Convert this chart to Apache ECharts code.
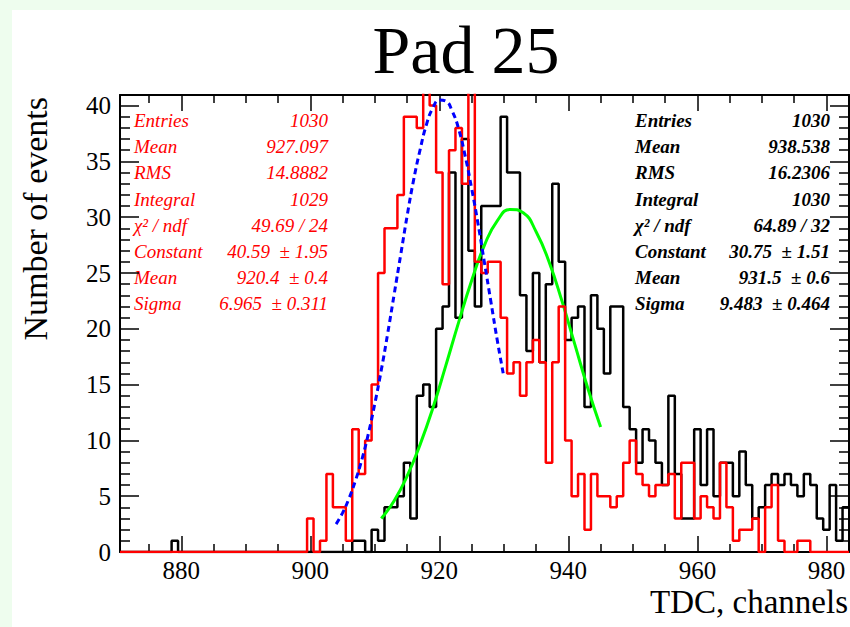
<!DOCTYPE html>
<html>
<head>
<meta charset="utf-8">
<script src="https://cdn.jsdelivr.net/npm/echarts@6/dist/echarts.min.js"></script>
<style>
html,body{margin:0;padding:0;background:#fff;}
#c{width:850px;height:627px;}
</style>
</head>
<body>
<div id="c"></div>
<script>
// ---- data ----
const binWidth = 1;
const binCenters = [
  871,872,873,874,875,876,877,878,879,880,
  881,882,883,884,885,886,887,888,889,890,
  891,892,893,894,895,896,897,898,899,900,
  901,902,903,904,905,906,907,908,909,910,
  911,912,913,914,915,916,917,918,919,920,
  921,922,923,924,925,926,927,928,929,930,
  931,932,933,934,935,936,937,938,939,940,
  941,942,943,944,945,946,947,948,949,950,
  951,952,953,954,955,956,957,958,959,960,
  961,962,963,964,965,966,967,968,969,970,
  971,972,973,974,975,976,977,978,979,980,
  981,982,983
];
const redCounts = [
  0,0,0,0,0,0,0,0,0,0,
  0,0,0,0,0,0,0,0,0,0,
  0,0,0,0,0,0,0,0,0,3,
  0,1,7,4,4,1,11,7,10,15,
  25,29,29,32,39,39,38,43,40,34,
  24,36,38,33,44,26,25,26,26,21,
  16,17,14,17,19,17,8,17,22,10,
  5,7,2,7,5,5,4,5,8,10,
  7,6,5,6,6,7,3,8,8,3,
  5,4,3,8,4,1,2,2,3,0,
  4,6,1,0,0,1,1,0,0,0,
  0,0,0
];
const blackCounts = [
  0,0,0,0,0,0,0,0,1,0,
  0,0,0,0,0,0,0,0,0,0,
  0,0,0,0,0,0,0,0,0,0,
  0,0,0,0,0,0,1,1,0,2,
  1,4,4,5,8,3,14,15,13,20,
  22,34,21,37,27,22,31,31,31,39,
  34,34,23,18,25,17,24,33,26,19,
  21,22,13,23,20,16,22,22,13,11,
  8,11,10,8,6,14,7,3,3,11,
  6,11,5,8,8,5,9,6,3,4,
  6,7,6,7,6,5,7,6,3,2,
  6,1,4
];
// Gaussian fit curves
const blueFitX = [904,905,906,907,908,909,910,911,912,913,914,915,916,917,918,919,920,921,922,923,924,925,926,927,928,929,930];
const blueFitY = [2.5,3.5,4.8,6.4,8.3,10.6,13.3,16.3,19.6,23.1,26.6,30.1,33.3,36.0,38.3,39.8,40.5,40.4,39.5,37.9,35.5,32.6,29.4,25.9,22.4,18.9,15.7];
const greenFitX = [911,913,915,917,919,921,923,925,927,929,931,933,935,937,939,941,943,945];
const greenFitY = [3.0,4.6,6.8,9.6,12.9,16.7,20.6,24.3,27.5,29.7,30.7,30.4,28.7,26.0,22.5,18.6,14.7,11.2];

const xMajorTicks = [880,900,920,940,960,980];
const xMinorTicks = [875,885,890,895,905,910,915,925,930,935,945,950,955,965,970,975];
const yMajorTicks = [0,5,10,15,20,25,30,35,40];
const yMinorTicks = [1,2,3,4,6,7,8,9,11,12,13,14,16,17,18,19,21,22,23,24,26,27,28,29,31,32,33,34,36,37,38,39];

const statLabels = ['Entries','Mean','RMS','Integral','\u03c7\u00b2 / ndf','Constant','Mean','Sigma'];
const redStatValues = ['1030','927.097','14.8882','1029','49.69 / 24','40.59\u00a0\u00a0\u00b1\u00a01.95','920.4\u00a0\u00a0\u00b1\u00a00.4','6.965\u00a0\u00a0\u00b1\u00a00.311'];
const blackStatValues = ['1030','938.538','16.2306','1030','64.89 / 32','30.75\u00a0\u00a0\u00b1\u00a01.51','931.5\u00a0\u00a0\u00b1\u00a00.6','9.483\u00a0\u00a0\u00b1\u00a00.464'];

const titleText = 'Pad 25';
const xTitle = 'TDC, channels';
const yTitle = 'Number of events';

// ---- chart ----
const X_MIN = 870.5, X_MAX = 983.5, Y_MIN = 0, Y_MAX = 40.95;
const FONT = "'Liberation Serif','Times New Roman',serif";

function histPoints(centers, counts) {
  const pts = centers.map((c, i) => [c - binWidth / 2, counts[i]]);
  pts.push([centers[centers.length - 1] + binWidth / 2, counts[counts.length - 1]]);
  return pts;
}
function pairs(xs, ys) { return xs.map((x, i) => [x, ys[i]]); }

function makeAxis(kind, pos, ticks, len, showLine, showLabels) {
  const ax = {
    type: 'value', position: pos,
    min: kind === 'x' ? X_MIN : Y_MIN,
    max: kind === 'x' ? X_MAX : Y_MAX,
    axisLine: { show: showLine, onZero: false, lineStyle: { color: '#000', width: 2 } },
    axisTick: { show: true, inside: true, length: len, customValues: ticks, lineStyle: { color: '#000', width: 1.5 } },
    axisLabel: { show: false },
    splitLine: { show: false },
    minorTick: { show: false }
  };
  if (showLabels) {
    ax.axisLabel = {
      show: true, customValues: ticks, color: '#000', fontFamily: FONT, fontSize: 25,
      margin: kind === 'x' ? 6 : 9
    };
  }
  return ax;
}

const graphics = [
  { type: 'rect', shape: { x: 0, y: 0, width: 850, height: 10 }, style: { fill: '#eefdee' }, silent: true },
  { type: 'rect', shape: { x: 0, y: 0, width: 12, height: 627 }, style: { fill: '#eefdee' }, silent: true },
  { type: 'text', x: 466, y: 50, style: { text: titleText, font: "68px 'Liberation Serif'", fill: '#000', textAlign: 'center', textVerticalAlign: 'middle' } },
  { type: 'text', x: 848, y: 602, style: { text: xTitle, font: "33px 'Liberation Serif'", fill: '#000', textAlign: 'right', textVerticalAlign: 'middle' } },
  { type: 'text', x: 35, y: 97, rotation: Math.PI / 2, style: { text: yTitle, font: "34px 'Liberation Serif'", fill: '#000', textAlign: 'right', textVerticalAlign: 'middle' } }
];
statLabels.forEach((lab, i) => {
  const y = 120.5 + 26.2 * i;
  graphics.push({ type: 'text', x: 134, y: y, style: { text: lab, font: "italic 19px 'Liberation Serif'", fill: '#ff0000', textAlign: 'left', textVerticalAlign: 'middle' } });
  graphics.push({ type: 'text', x: 328, y: y, style: { text: redStatValues[i], font: "italic 19px 'Liberation Serif'", fill: '#ff0000', textAlign: 'right', textVerticalAlign: 'middle' } });
  graphics.push({ type: 'text', x: 635, y: y, style: { text: lab, font: "italic bold 19px 'Liberation Serif'", fill: '#000', textAlign: 'left', textVerticalAlign: 'middle' } });
  graphics.push({ type: 'text', x: 830, y: y, style: { text: blackStatValues[i], font: "italic bold 19px 'Liberation Serif'", fill: '#000', textAlign: 'right', textVerticalAlign: 'middle' } });
});

const chart = echarts.init(document.getElementById('c'), null, { renderer: 'svg', width: 850, height: 627 });
chart.setOption({
  animation: false,
  backgroundColor: '#fff',
  grid: { left: 120, right: 1, top: 95, bottom: 75, containLabel: false },
  xAxis: [
    makeAxis('x', 'bottom', xMajorTicks, 16, true, true),
    makeAxis('x', 'bottom', xMinorTicks, 8, false, false),
    makeAxis('x', 'top', xMajorTicks, 16, true, false),
    makeAxis('x', 'top', xMinorTicks, 8, false, false)
  ],
  yAxis: [
    makeAxis('y', 'left', yMajorTicks, 19, true, true),
    makeAxis('y', 'left', yMinorTicks, 10, false, false),
    makeAxis('y', 'right', yMajorTicks, 19, true, false),
    makeAxis('y', 'right', yMinorTicks, 10, false, false)
  ],
  series: [
    { name: 'black', type: 'line', step: 'end', data: histPoints(binCenters, blackCounts), showSymbol: false, symbol: 'none',
      lineStyle: { color: '#000', width: 2.5 }, clip: true, z: 3 },
    { name: 'greenFit', type: 'line', smooth: true, data: pairs(greenFitX, greenFitY), showSymbol: false, symbol: 'none',
      lineStyle: { color: '#00ff00', width: 3 }, clip: true, z: 4 },
    { name: 'red', type: 'line', step: 'end', data: histPoints(binCenters, redCounts), showSymbol: false, symbol: 'none',
      lineStyle: { color: '#ff0000', width: 2.5 }, clip: true, z: 5 },
    { name: 'blueFit', type: 'line', smooth: true, data: pairs(blueFitX, blueFitY), showSymbol: false, symbol: 'none',
      lineStyle: { color: '#0000ff', width: 3, type: [6, 4] }, clip: true, z: 6 }
  ],
  graphic: graphics
});
</script>
</body>
</html>
